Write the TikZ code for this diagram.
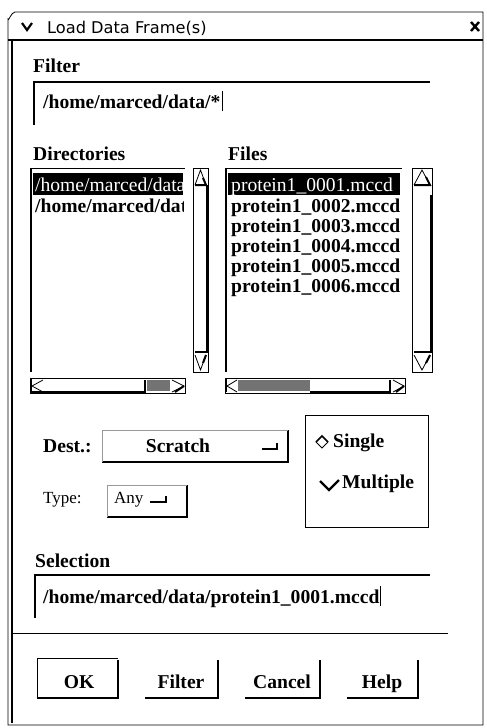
\documentclass[tikz,border=0pt]{standalone}
\usepackage{fontspec}
\setmainfont{Liberation Serif}
\newfontfamily\titlefont{DejaVu Sans}
\begin{document}
\begin{tikzpicture}[x=1pt,y=-1pt,
  lbl/.style={anchor=base west,inner sep=0pt,font=\fontsize{19.6}{20}\selectfont\bfseries},
  lblc/.style={anchor=base,inner sep=0pt,font=\fontsize{19.6}{20}\selectfont\bfseries},
  reg/.style={anchor=base west,inner sep=0pt,font=\fontsize{19.6}{20}\selectfont},
  regs/.style={anchor=base west,inner sep=0pt,font=\fontsize{17}{18}\selectfont},
  thin/.style={line width=0.8pt},
  shadow/.style={line width=2pt},
  dither/.style={fill=black!55},
]
\useasboundingbox[fill=white] (0,0) rectangle (487,728);

% ---------- window frame ----------
\draw[thin] (8,725) -- (8,19) to[out=-90,in=180] (15,12) -- (483,12) -- (483,725) -- cycle;
\draw[line width=1.2pt] (8,40) -- (483,40);
\draw[line width=1.2pt] (12,40) -- (12,723);
\draw[line width=2.2pt] (22,23) -- (27,30) -- (32,23);
\draw[line width=2.4pt] (471,22) -- (479,31) (479,22) -- (471,31);
\node[anchor=base west,inner sep=0pt,font=\titlefont\fontsize{16.2}{17}\selectfont] (title) at (47,33) {Load Data Frame(s)};

% ---------- filter ----------
\node[lbl] (filterlbl) at (33,72) {Filter};
\draw[shadow] (34,125) -- (34,82) -- (430,82);
\node[lbl] (filtertxt) at (43,108) {/home/marced/data/*};
\draw[line width=0.6pt] (filtertxt.base east) ++(2,-17) coordinate (fc1) -- ++(0,20) coordinate (fc2);

% ---------- directories ----------
\node[lbl] (dirlbl) at (33,160) {Directories};
\draw[thin] (30,168) -- (185,168);
\draw[shadow] (31,372) -- (31,168);
\fill (33,173) rectangle (183,195);
\begin{scope}
  \clip (33,170) rectangle (183,220);
  \node[reg,text=white] (dir1) at (35,191) {/home/marced/data};
  \node[lbl] (dir2) at (35,212) {/home/marced/data};
\end{scope}
% vertical scrollbar
\draw[thin] (193,168) rectangle (208,372);
\draw[thin] (195,185) -- (200.5,170) -- (206,185);
\draw[shadow] (203,178) -- (206,185) -- (195,185);
\draw[shadow] (207,185) -- (207,352) -- (195,352);
\draw[thin] (195,355) -- (200.5,370) -- (206,355);
\draw[shadow] (203,363) -- (206,355);
% horizontal scrollbar
\draw[thin] (30,378) rectangle (185,393);
\draw[shadow] (31,379) -- (31,392) -- (43,392);
\draw[thin] (43,380) -- (32,386) -- (43,392);
\draw[shadow] (43,392) -- (145,392) -- (145,380);
\fill[dither] (147,380) rectangle (170,391);
\draw[thin] (172,380) -- (184,386) -- (172,392);
\draw[shadow] (175,392) -- (184,386);

% ---------- files ----------
\node[lbl] (fileslbl) at (228,160) {Files};
\draw[thin] (225,168) -- (402,168);
\draw[shadow] (226,372) -- (226,168);
\fill (228,173) rectangle (400,195);
\begin{scope}
  \clip (228,170) rectangle (400,300);
  \node[reg,text=white] (f1) at (231,191) {protein1\_0001.mccd};
  \node[lbl] (f2) at (231,212) {protein1\_0002.mccd};
  \node[lbl] (f3) at (231,232) {protein1\_0003.mccd};
  \node[lbl] (f4) at (231,252) {protein1\_0004.mccd};
  \node[lbl] (f5) at (231,272) {protein1\_0005.mccd};
  \node[lbl] (f6) at (231,292) {protein1\_0006.mccd};
\end{scope}
% vertical scrollbar
\draw[thin] (412,168) rectangle (432,372);
\draw[thin] (414,185) -- (422,170) -- (430,185);
\draw[shadow] (426,177) -- (430,185) -- (414,185);
\draw[shadow] (431,195) -- (431,352) -- (414,352);
\draw[thin] (414,355) -- (422,370) -- (430,355);
\draw[shadow] (426,363) -- (430,355);
% horizontal scrollbar
\draw[thin] (225,378) rectangle (405,393);
\draw[thin] (237,380) -- (227,386) -- (237,392);
\draw[shadow] (226,379) -- (226,392);
\fill[dither] (238,380) rectangle (310,391);
\draw[shadow] (310,392) -- (390,392) -- (390,380);
\draw[thin] (393,380) -- (404,386) -- (393,392);
\draw[shadow] (396,392) -- (404,386);

% ---------- destination / type ----------
\node[lbl] (destlbl) at (43,452) {Dest.:};
\draw[shadow] (102,462) -- (288,462) -- (288,430);
\draw[line width=0.4pt,black!40] (102,462) -- (102,430) -- (288,430);
\node[lblc] (scratch) at (178,452) {Scratch};
\draw[shadow] (262,449) -- (278,449);
\draw[line width=1.2pt] (277,449) -- (277,443);

\node[regs] (typelbl) at (43,503) {Type:};
\draw[shadow] (107,517) -- (187,517) -- (187,485);
\draw[line width=0.4pt,black!40] (107,517) -- (107,485) -- (187,485);
\node[regs] (any) at (114,503) {Any};
\draw[shadow] (150,502) -- (167,502);
\draw[line width=1.2pt] (166,502) -- (166,496);

% ---------- radio box ----------
\draw[thin] (305,415) rectangle (428,527);
\draw[line width=1.6pt] (316,442) -- (322,436) -- (328,442);
\draw[line width=0.8pt] (316,442) -- (322,448) -- (328,442);
\node[lbl] (single) at (333,447) {Single};
\draw[line width=2.2pt] (320,481) -- (329,490) -- (339,480);
\node[lbl] (multiple) at (342,488) {Multiple};

% ---------- selection ----------
\node[lbl] (sellbl) at (35,567) {Selection};
\draw[shadow] (35,618) -- (35,575) -- (430,575);
\node[lbl] (seltxt) at (43,603) {/home/marced/data/protein1\_0001.mccd};
\draw[line width=0.6pt] (seltxt.base east) ++(1,-17) coordinate (sc1) -- ++(0,20) coordinate (sc2);

\draw[line width=1pt] (12,633) -- (448,633);

% ---------- buttons ----------
\draw[line width=0.6pt] (37,698) -- (37,658) -- (118,658);
\draw[shadow] (37,698) -- (118,698) -- (118,660);
\node[lblc] (ok) at (79,688) {OK};
\draw[shadow] (145,698) -- (218,698) -- (218,660);
\node[lblc] (filterbtn) at (181,688) {Filter};
\draw[shadow] (245,698) -- (320,698) -- (320,660);
\node[lblc] (cancel) at (282,688) {Cancel};
\draw[shadow] (347,698) -- (418,698) -- (418,660);
\node[lblc] (help) at (382,688) {Help};
\end{tikzpicture}
\end{document}
